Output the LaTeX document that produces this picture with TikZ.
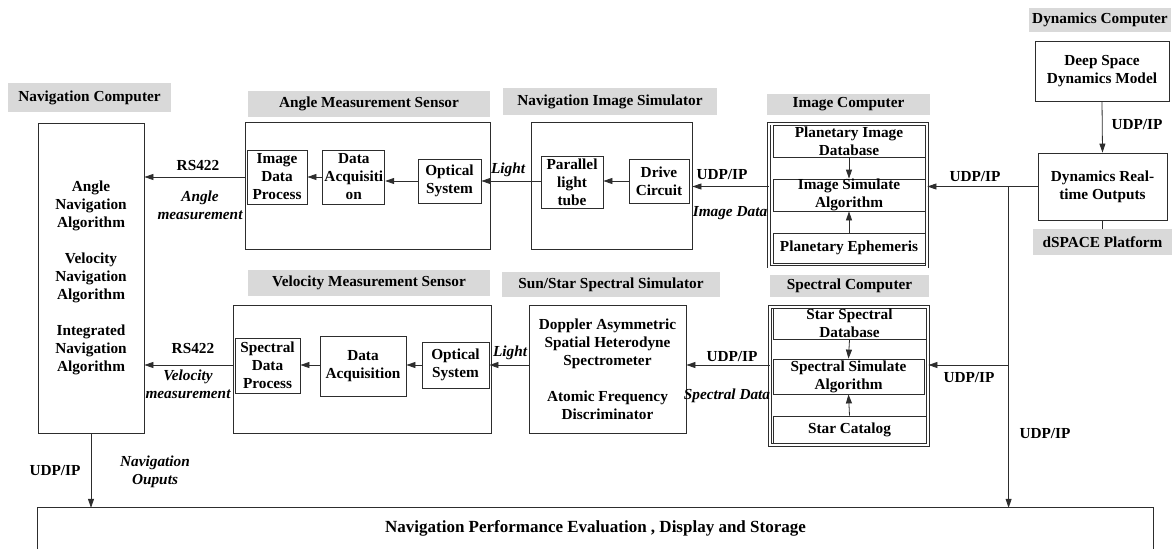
\documentclass[tikz,border=0pt]{standalone}
\usepackage{fontspec}
\setmainfont{Liberation Serif}
\usepackage{tikz}
\usetikzlibrary{positioning,arrows.meta,calc}
\definecolor{titlegray}{RGB}{217,217,217}
\definecolor{linegray}{RGB}{45,45,45}

\begin{document}
\begin{tikzpicture}
[
  x=1pt, y=-1pt,
  font=\fontsize{15.3}{18}\selectfont\bfseries,
  every node/.style={align=center},
  >={Triangle[length=9pt,width=6pt]},
  title/.style n args={2}{fill=titlegray, minimum width=#1, minimum height=#2, inner sep=0pt},
  block/.style n args={2}{draw=linegray, line width=0.8pt, minimum width=#1, minimum height=#2, inner sep=1pt},
  unit/.style n args={2}{block={#1}{#2}, double, double distance=2pt},
  note/.style={font=\fontsize{15.3}{18}\selectfont\bfseries\itshape, inner sep=0pt},
  tag/.style={inner sep=0pt},
  link/.style={draw=linegray, line width=0.8pt}
]
\useasboundingbox (0,0) rectangle (1175,549);

% navigation computer
\node (navtitle) [title={163pt}{29pt}] at (89.5,97.5) {Navigation Computer};
\node (navcomp) [block={106pt}{310pt}] at (91,278) {Angle\\Navigation\\Algorithm\\[18pt]Velocity\\Navigation\\Algorithm\\[18pt]Integrated\\Navigation\\Algorithm};

% angle measurement sensor
\node (angtitle) [title={242pt}{26pt}] at (369,104) {Angle Measurement Sensor};
\node (angsens) [block={245pt}{127pt}] at (367.5,185.5) {};
\node (imgproc) [block={60pt}{54pt}] at (277,177) {Image\\Data\\Process};
\node (angacq) [block={62pt}{54pt}, right=15pt of imgproc] {Data\\Acquisiti\\on};
\node (angopt) [block={63pt}{44pt}] at (449.5,181) {Optical\\System};

% navigation image simulator
\node (simtitle) [title={214pt}{27pt}] at (610,101.5) {Navigation Image Simulator};
\node (navsim) [block={161pt}{127pt}] at (611.5,185.5) {};
\node (tube) [block={62pt}{52pt}] at (572,182) {Parallel\\light\\tube};
\node (drive) [block={60pt}{44pt}] at (659,181) {Drive\\Circuit};

% image computer
\node (imgtitle) [title={163pt}{21pt}] at (848.5,104.5) {Image Computer};
\node (imgcomp) [unit={158pt}{143pt}] at (848,195) {};
\node (imgdb) [block={152pt}{32pt}, inner ysep=0pt] at (849,141) {Planetary Image\\Database};
\node (imgalg) [block={152pt}{32pt}, inner ysep=0pt] at (849,195) {Image Simulate\\Algorithm};
\node (ephem) [block={152pt}{30pt}] at (849,248) {Planetary Ephemeris};

% dynamics computer
\node (dyntitle) [title={142pt}{24pt}] at (1100,19.5) {Dynamics Computer};
\node (dsmodel) [block={134pt}{60pt}] at (1102,71) {Deep Space\\Dynamics Model};
\node (dynrt) [block={129pt}{67pt}] at (1102.5,186.5) {Dynamics Real-\\time Outputs};
\node (dspace) [title={139pt}{26pt}] at (1102.5,242) {dSPACE Platform};

% velocity measurement sensor
\node (veltitle) [title={242pt}{26pt}] at (369,283) {Velocity Measurement Sensor};
\node (velsens) [block={258pt}{128pt}] at (362,369) {};
\node (specproc) [block={65pt}{55pt}] at (267.5,365.5) {Spectral\\Data\\Process};
\node (velacq) [block={86pt}{60pt}] at (363,366) {Data\\Acquisition};
\node (velopt) [block={67pt}{46pt}] at (455.5,365) {Optical\\System};

% sun/star spectral simulator
\node (suntitle) [title={218pt}{25pt}] at (611,284.5) {Sun/Star Spectral Simulator};
\node (doppler) [block={157pt}{128pt}] at (607.5,369) {Doppler Asymmetric\\Spatial Heterodyne\\Spectrometer\\[18pt]Atomic Frequency\\Discriminator};

% spectral computer
\node (spectitle) [title={159pt}{22pt}] at (849.5,286) {Spectral Computer};
\node (speccomp) [unit={158pt}{138pt}] at (849,376) {};
\node (specdb) [block={153pt}{31pt}, inner ysep=0pt] at (849.5,323.5) {Star Spectral\\Database};
\node (specalg) [block={151pt}{35pt}, inner ysep=0pt] at (848.5,376.5) {Spectral Simulate\\Algorithm};
\node (catalog) [block={153pt}{27pt}] at (849.5,429.5) {Star Catalog};

% evaluation, open at the bottom
\node (evalbox) [minimum width=1115pt, minimum height=41pt, inner sep=0pt, font=\fontsize{17}{20}\selectfont\bfseries] at (595.5,528.5) {Navigation Performance Evaluation , Display and Storage};
\draw [link] (evalbox.south west) |- (evalbox.north east) -- (evalbox.south east);

% upper chain
\draw [link, ->] (angsens.west |- imgproc) -- (navcomp.east |- imgproc);
\draw [link, ->] (angacq.west) -- (imgproc.east);
\draw [link, ->] (angopt.west) -- (angopt.west -| angacq.east);
\draw [link, ->] (tube.west |- angopt) -- (angopt.east);
\draw [link, ->] (drive.west) -- (drive.west -| tube.east);
\draw [link, ->] (imgcomp.west |- dynrt) -- (navsim.east |- dynrt);
\draw [link, ->] (dynrt.west) -- (dynrt.west -| imgcomp.east);
\draw [link, ->] (imgdb.south) -- (imgalg.north);
\draw [link, ->] (ephem.north) -- (imgalg.south);
\draw [link, ->] (dsmodel.south) -- (dynrt.north);
\draw [link] (dynrt.south) -- (dspace.north);

% bus from the dynamics outputs
\coordinate (bus) at ([xshift=-29pt]dynrt.west);
\draw [link, ->] (bus) -- (bus |- evalbox.north);
\draw [link, ->] (bus |- velopt) -- (speccomp.east |- velopt);
\draw [link, ->] (navcomp.south) -- (navcomp.south |- evalbox.north);

% lower chain
\draw [link, ->] (velsens.west |- velopt) -- (navcomp.east |- velopt);
\draw [link, ->] (velacq.west |- velopt) -- (specproc.east |- velopt);
\draw [link, ->] (velopt.west) -- (velopt.west -| velacq.east);
\draw [link, ->] (doppler.west |- velopt) -- (velopt.east);
\draw [link, ->] (speccomp.west |- velopt) -- (doppler.east |- velopt);
\draw [link, ->] (specdb.south) -- (specalg.north);
\draw [link, ->] (catalog.north) -- (specalg.south);

% connector labels
\node (rsup) [tag] at (198,166) {RS422};
\node (angmeas) [note] at (200,205) {Angle\\measurement};
\node (lightup) [note] at (508,170) {Light};
\node (udpimg) [tag] at (722,175) {UDP/IP};
\node (imgdata) [note] at (730,213) {Image Data};
\node (udpdyn) [tag] at (975,177) {UDP/IP};
\node (udpmodel) [tag] at (1137,125) {UDP/IP};
\node (rslow) [tag] at (193,349) {RS422};
\node (velmeas) [note] at (188,384) {Velocity\\measurement};
\node (lightlow) [note] at (510,353) {Light};
\node (udpspec) [tag] at (732,357) {UDP/IP};
\node (specdata) [note] at (727,396) {Spectral Data};
\node (udpbus) [tag] at (969,378) {UDP/IP};
\node (udpeval) [tag] at (1045,434) {UDP/IP};
\node (udpnav) [tag] at (55,471) {UDP/IP};
\node (navout) [note] at (155,472) {Navigation\\Ouputs};
\end{tikzpicture}
\end{document}
